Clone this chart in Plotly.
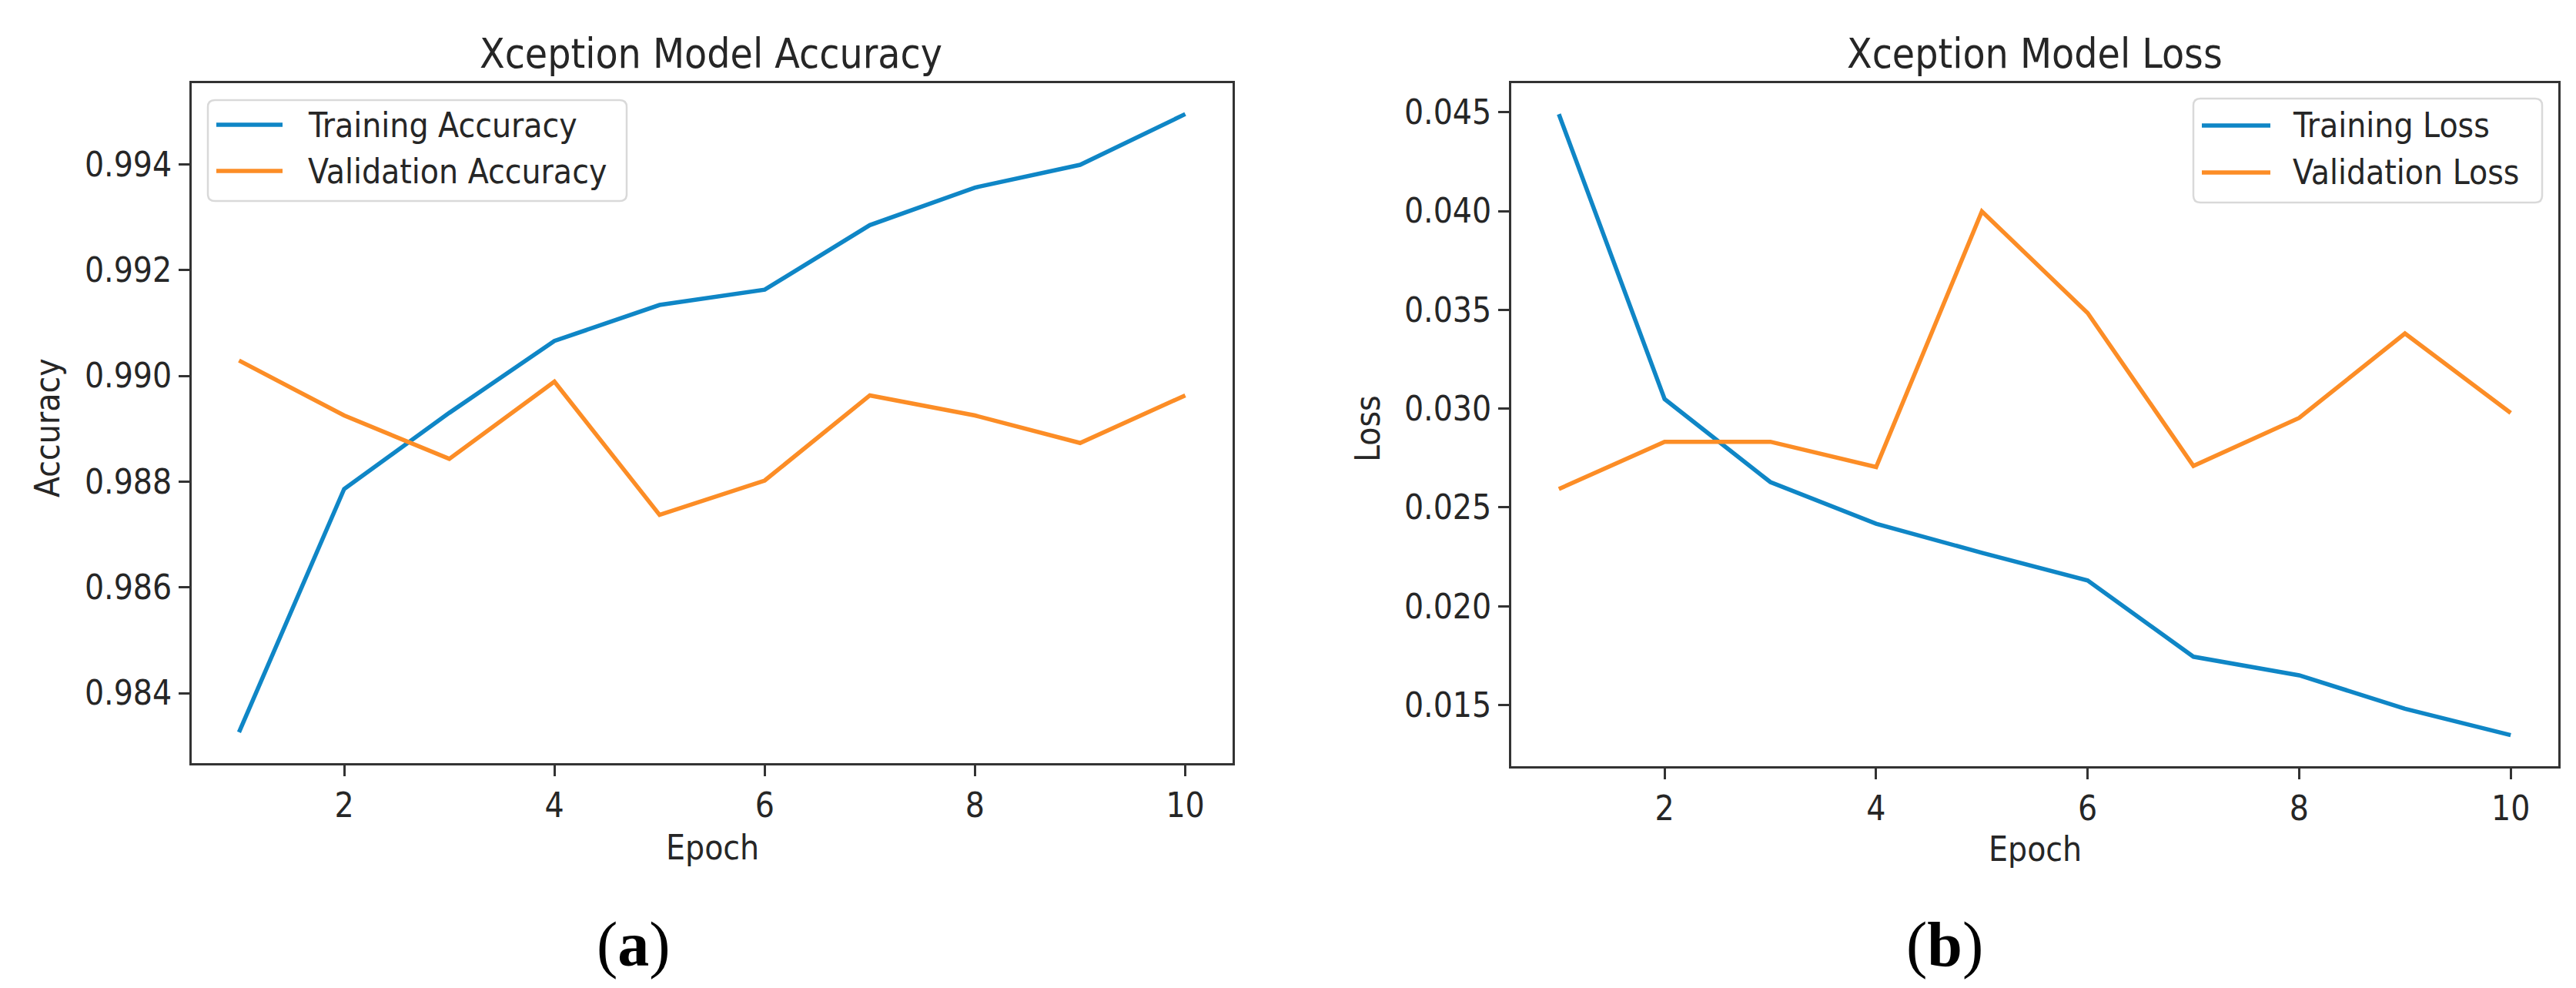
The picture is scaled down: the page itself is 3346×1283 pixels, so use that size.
import plotly.graph_objects as go

# ---- data ----
epochs = [1, 2, 3, 4, 5, 6, 7, 8, 9, 10]
train_acc = [0.98326, 0.98786, 0.98930, 0.99066, 0.99134, 0.99163, 0.99285, 0.99356, 0.99399, 0.99495]
val_acc = [0.99029, 0.98925, 0.98843, 0.98989, 0.98737, 0.98802, 0.98963, 0.98925, 0.98873, 0.98963]
train_loss = [0.04490, 0.03048, 0.02628, 0.02417, 0.02270, 0.02130, 0.01744, 0.01650, 0.01481, 0.01347]
val_loss = [0.02593, 0.02832, 0.02832, 0.02704, 0.03998, 0.03484, 0.02710, 0.02953, 0.03380, 0.02978]

acc_ticks = [0.984, 0.986, 0.988, 0.990, 0.992, 0.994]
loss_ticks = [0.015, 0.020, 0.025, 0.030, 0.035, 0.040, 0.045]
x_ticks = [2, 4, 6, 8, 10]

BLUE = "#0f86c6"
ORANGE = "#fc8d26"
W, H = 3346, 1283
FONT = "DejaVu Sans Condensed, DejaVu Sans"
TXT = "#262626"
LW = 5.5


def px_x(p):
    return p / W


def px_y(p):
    return 1 - p / H


def auto_range(*series):
    lo = min(min(s) for s in series)
    hi = max(max(s) for s in series)
    m = (hi - lo) * 0.05
    return [lo - m, hi + m]


fig = go.Figure()
fig.add_trace(go.Scatter(x=epochs, y=train_acc, mode="lines", name="Training Accuracy",
                         line=dict(color=BLUE, width=LW), xaxis="x", yaxis="y"))
fig.add_trace(go.Scatter(x=epochs, y=val_acc, mode="lines", name="Validation Accuracy",
                         line=dict(color=ORANGE, width=LW), xaxis="x", yaxis="y"))
fig.add_trace(go.Scatter(x=epochs, y=train_loss, mode="lines", name="Training Loss",
                         line=dict(color=BLUE, width=LW), xaxis="x2", yaxis="y2"))
fig.add_trace(go.Scatter(x=epochs, y=val_loss, mode="lines", name="Validation Loss",
                         line=dict(color=ORANGE, width=LW), xaxis="x2", yaxis="y2"))

axis_common = dict(
    showline=True, mirror=True, linecolor="#333333", linewidth=3,
    ticks="outside", ticklen=14, tickwidth=3, tickcolor="#333333",
    showgrid=False, zeroline=False, automargin=False,
    tickfont=dict(family=FONT, size=44, color=TXT),
)

xr = [epochs[0] - 0.05 * (epochs[-1] - epochs[0]), epochs[-1] + 0.05 * (epochs[-1] - epochs[0])]

fig.update_layout(
    width=W, height=H,
    margin=dict(l=0, r=0, t=0, b=0),
    paper_bgcolor="white", plot_bgcolor="white",
    showlegend=False,
    xaxis=dict(domain=[px_x(241), px_x(1593)], range=xr, tickvals=x_ticks, anchor="y", **axis_common),
    yaxis=dict(domain=[px_y(983), px_y(100)], range=auto_range(train_acc, val_acc), tickvals=acc_ticks,
               tickformat=".3f", anchor="x", **axis_common),
    xaxis2=dict(domain=[px_x(1955), px_x(3315)], range=xr, tickvals=x_ticks, anchor="y2", **axis_common),
    yaxis2=dict(domain=[px_y(987), px_y(100)], range=auto_range(train_loss, val_loss), tickvals=loss_ticks,
                tickformat=".3f", anchor="x2", **axis_common),
)

shapes = []
ann = []


def rounded_box(x0, y0, x1, y1, r=9):
    X = px_x
    Y = px_y
    rx = r / W
    ry = r / H
    a, b, c, d = X(x0), Y(y0), X(x1), Y(y1)  # b is top (higher), d bottom
    path = (f"M {a+rx},{b} L {c-rx},{b} Q {c},{b} {c},{b-ry} "
            f"L {c},{d+ry} Q {c},{d} {c-rx},{d} "
            f"L {a+rx},{d} Q {a},{d} {a},{d+ry} "
            f"L {a},{b-ry} Q {a},{b} {a+rx},{b} Z")
    return dict(type="path", path=path, xref="paper", yref="paper",
                line=dict(color="#d9d9d9", width=2.5), fillcolor="rgba(255,255,255,0.8)", layer="above")


def legend(box, lx0, lx1, tx, rows):
    shapes.append(rounded_box(*box))
    for (yy, color, label) in rows:
        shapes.append(dict(type="line", xref="paper", yref="paper",
                           x0=px_x(lx0), x1=px_x(lx1), y0=px_y(yy), y1=px_y(yy),
                           line=dict(color=color, width=LW), layer="above"))
        ann.append(dict(text=label, x=px_x(tx), y=px_y(yy), xref="paper", yref="paper",
                        showarrow=False, xanchor="left", yanchor="middle",
                        font=dict(family=FONT, size=44, color=TXT)))


legend((262, 122, 806, 253), 273, 359, 390,
       [(154, BLUE, fig.data[0].name), (214, ORANGE, fig.data[1].name)])
legend((2841, 120, 3294, 255), 2852, 2941, 2968,
       [(155, BLUE, fig.data[2].name), (216, ORANGE, fig.data[3].name)])

# titles
ann.append(dict(text="Xception Model Accuracy", x=px_x(915), y=px_y(62), xref="paper", yref="paper",
                showarrow=False, xanchor="center", yanchor="middle",
                font=dict(family=FONT, size=53, color=TXT)))
ann.append(dict(text="Xception Model Loss", x=px_x(2635), y=px_y(62), xref="paper", yref="paper",
                showarrow=False, xanchor="center", yanchor="middle",
                font=dict(family=FONT, size=53, color=TXT)))
# axis labels
ann.append(dict(text="Epoch", x=px_x(917), y=px_y(1092), xref="paper", yref="paper",
                showarrow=False, xanchor="center", yanchor="middle",
                font=dict(family=FONT, size=44, color=TXT)))
ann.append(dict(text="Epoch", x=px_x(2635), y=px_y(1094), xref="paper", yref="paper",
                showarrow=False, xanchor="center", yanchor="middle",
                font=dict(family=FONT, size=44, color=TXT)))
ann.append(dict(text="Accuracy", x=px_x(53), y=px_y(548), xref="paper", yref="paper",
                showarrow=False, xanchor="center", yanchor="middle", textangle=-90,
                font=dict(family=FONT, size=44, color=TXT)))
ann.append(dict(text="Loss", x=px_x(1768), y=px_y(548), xref="paper", yref="paper",
                showarrow=False, xanchor="center", yanchor="middle", textangle=-90,
                font=dict(family=FONT, size=44, color=TXT)))
# panel labels
ann.append(dict(text="(<b>a</b>)", x=px_x(815), y=px_y(1218), xref="paper", yref="paper",
                showarrow=False, xanchor="center", yanchor="middle",
                font=dict(family="Liberation Serif", size=82, color="black")))
ann.append(dict(text="(<b>b</b>)", x=px_x(2518), y=px_y(1218), xref="paper", yref="paper",
                showarrow=False, xanchor="center", yanchor="middle",
                font=dict(family="Liberation Serif", size=82, color="black")))

fig.update_layout(annotations=ann, shapes=shapes)

fig.write_html("out.html")
